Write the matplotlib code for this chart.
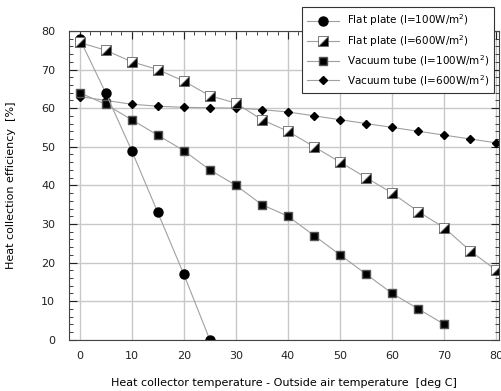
import matplotlib.pyplot as plt
from matplotlib.markers import MarkerStyle
from matplotlib.transforms import Affine2D
from matplotlib.ticker import MultipleLocator

# Heat collection efficiency (%) vs temperature difference (deg C)
x_fp100 = [0, 5, 10, 15, 20, 25]
fp100 = [78, 64, 49, 33, 17, 0]

x_all = [0, 5, 10, 15, 20, 25, 30, 35, 40, 45, 50, 55, 60, 65, 70, 75, 80]
fp600 = [77, 75, 72, 70, 67, 63.2, 61.3, 57, 54, 50, 46, 42, 38, 33.2, 29, 23, 18]
vt600 = [63, 62, 61, 60.5, 60.2, 60.1, 60, 59.6, 59, 58, 57, 56, 55, 54, 53, 52, 51]

x_vt100 = [0, 5, 10, 15, 20, 25, 30, 35, 40, 45, 50, 55, 60, 65, 70]
vt100 = [64, 61, 57, 53, 49, 44, 40, 35, 32, 27, 22, 17, 12, 8, 4]

labels = ["Flat plate (I=100W/m$^2$)", "Flat plate (I=600W/m$^2$)",
          "Vacuum tube (I=100W/m$^2$)", "Vacuum tube (I=600W/m$^2$)"]

fig = plt.figure(figsize=(5.01, 3.91), dpi=100)
ax = fig.add_axes([0.138, 0.131, 0.858, 0.79])

line_kw = dict(color="#a0a0a0", lw=0.8)
half_sq = MarkerStyle("D", fillstyle="right", transform=Affine2D().rotate_deg(-45))

h4, = ax.plot(x_all, vt600, marker="D", ms=4.5, mfc="black", mec="black", **line_kw)
h3, = ax.plot(x_vt100, vt100, marker="s", ms=6, mfc="black", mec="#555555", **line_kw)
h1, = ax.plot(x_fp100, fp100, marker="o", ms=6.5, mfc="black", mec="black", **line_kw)
h2, = ax.plot(x_all, fp600, marker=half_sq, ms=6.5, mfc="black", mfcalt="white",
              mec="#666666", mew=0.6, **line_kw)

ax.set_xlim(-2, 80.5)
ax.set_ylim(0, 80)
ax.xaxis.set_major_locator(MultipleLocator(10))
ax.yaxis.set_major_locator(MultipleLocator(10))
ax.xaxis.set_minor_locator(MultipleLocator(2))
ax.yaxis.set_minor_locator(MultipleLocator(2))
ax.grid(True, which="major", color="#c8c8c8", lw=1)
ax.set_axisbelow(True)
ax.tick_params(which="both", direction="in", top=True, right=True, bottom=False,
               labelsize=8, colors="#222222")
ax.tick_params(which="major", length=6, width=0.8)
ax.tick_params(which="minor", length=3, width=0.6)
ax.tick_params(axis="x", pad=8)
ax.tick_params(axis="y", pad=10)
for s in ax.spines.values():
    s.set_color("#444444")
    s.set_linewidth(0.8)

ax.set_xlabel("Heat collector temperature - Outside air temperature  [deg C]",
              fontsize=8, labelpad=12)
ax.set_ylabel("Heat collection efficiency  [%]", fontsize=8, labelpad=18)

leg = fig.legend([h1, h2, h3, h4], labels, loc="upper right",
                 bbox_to_anchor=(0.997, 0.995), fontsize=7.5, frameon=True,
                 fancybox=False, edgecolor="#333333", framealpha=1,
                 handlelength=3, borderpad=0.5, labelspacing=0.45)
leg.get_frame().set_linewidth(0.8)

fig.savefig("out.png", dpi=100)
